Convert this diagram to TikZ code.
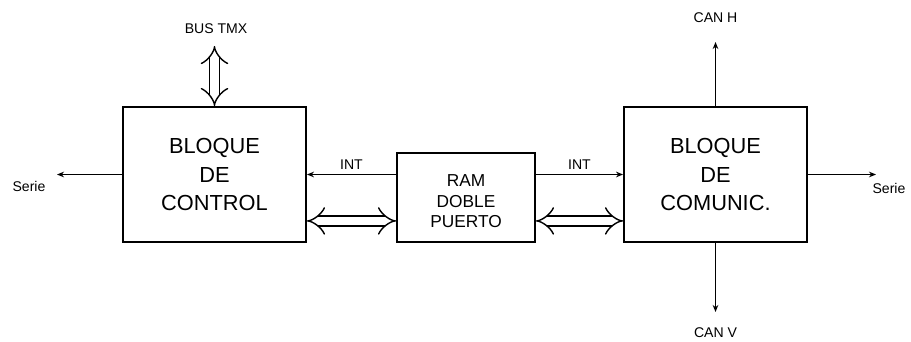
\documentclass[tikz,border=0pt]{standalone}
\usepackage{fontspec}
\setmainfont{Liberation Sans}
\usetikzlibrary{arrows.meta}

\begin{document}
\begin{tikzpicture}[x=0.025cm,y=-0.025cm,>={Stealth[length=5pt,width=4pt]},
  block/.style={draw,line width=1.3pt,minimum width=4.575cm,minimum height=3.375cm,align=center,font=\fontsize{15.5}{20.3}\selectfont},
  rambox/.style={draw,line width=1.3pt,minimum width=3.45cm,minimum height=2.225cm,align=center,font=\fontsize{12.3}{14.6}\selectfont},
  lbl/.style={font=\fontsize{10}{12}\selectfont},
  sig/.style={->,line width=1.1pt},
  bus/.style={{Implies}-{Implies},double,double distance=6pt,line width=1pt}]
\useasboundingbox (0,0) rectangle (911,341);
% Bloques
\node[block] (ctrl) at (214.5,174.5) {BLOQUE\\DE\\CONTROL};
\node[rambox] (ram) at (466,197.5) {\rule{0pt}{14pt}RAM\\DOBLE\\PUERTO};
\node[block] (com) at (715.5,174.5) {BLOQUE\\DE\\COMUNIC.};
% Enlaces
\draw[sig] (ram.west |- ctrl.east) -- (ctrl.east) node[lbl,pos=0.5,above] (int1) {INT};
\draw[sig] (ram.east |- com.west) -- (com.west) node[lbl,pos=0.5,above] (int2) {INT};
\draw[bus] ([yshift=-1.16cm]ctrl.east) -- ([yshift=-1.16cm]ctrl.east -| ram.west);
\draw[bus] ([yshift=-1.16cm]com.west -| ram.east) -- ([yshift=-1.16cm]com.west);
% Salidas
\coordinate (serieI) at (57,174.5); \coordinate (serieD) at (876,174.5);
\coordinate (busT) at (214.5,46); \coordinate (canH) at (715.5,42); \coordinate (canV) at (715.5,312);
\draw[sig] (ctrl.west) -- (serieI); \node[lbl] (tserieI) at (29,186) {Serie};
\draw[sig] (com.east) -- (serieD); \node[lbl] (tserieD) at (889,188) {Serie};
\draw[bus] (ctrl.north) -- (busT); \node[lbl] (tbus) at (216,29) {BUS TMX};
\draw[sig] (com.north) -- (canH); \node[lbl] (tcanH) at (715.5,18) {CAN H};
\draw[sig] (com.south) -- (canV); \node[lbl] (tcanV) at (715.5,333) {CAN V};
\end{tikzpicture}
\end{document}
